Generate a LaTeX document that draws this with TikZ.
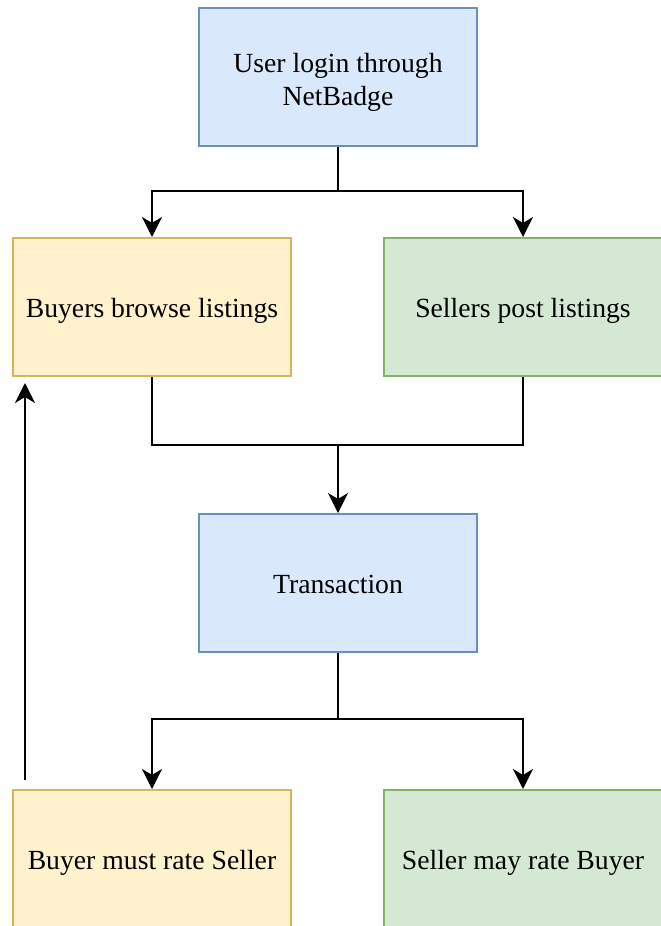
\documentclass[tikz,border=0pt]{standalone}
\usepackage{fontspec}
\setmainfont{Liberation Serif}
\usetikzlibrary{arrows.meta}
\definecolor{bluefill}{HTML}{DAE8FC}
\definecolor{bluedraw}{HTML}{6C8EBF}
\definecolor{yelfill}{HTML}{FFF2CC}
\definecolor{yeldraw}{HTML}{D6B656}
\definecolor{grnfill}{HTML}{D5E8D4}
\definecolor{grndraw}{HTML}{82B366}
\tikzset{
  boxfont/.style={font=\fontsize{27.7}{33}\selectfont},
  box/.style={rectangle, inner sep=0pt, minimum width=278pt, minimum height=138pt,
    line width=2pt, align=center, boxfont, text height=20pt, text depth=0pt},
  bluebox/.style={box, fill=bluefill, draw=bluedraw},
  yelbox/.style={box, fill=yelfill, draw=yeldraw},
  grnbox/.style={box, fill=grnfill, draw=grndraw},
  conn/.style={line width=2pt, black},
  arr/.style={conn, -{Stealth[length=20pt, width=20pt, inset=6pt]}},
}
\begin{document}
\begin{tikzpicture}[x=1pt, y=-1pt]
\useasboundingbox (0,0) rectangle (661,926);
\node[bluebox, label={[boxfont, align=center, yshift=-5pt]center:User login through\\NetBadge}] (login) at (338,77) {};
\node[yelbox] (browse) at (152,307) {Buyers browse listings};
\node[grnbox] (post) at (523,307) {Sellers post listings};
\node[bluebox] (trans) at (338,583) {Transaction};
\node[yelbox] (brate) at (152,859) {Buyer must rate Seller};
\node[grnbox] (srate) at (523,859) {Seller may rate Buyer};
\coordinate (loopstart) at (25,780);
\coordinate (loopend) at (25,383);
\draw[arr] (login.south) -- ++(0,44) -| (browse.north);
\draw[arr] (login.south) -- ++(0,44) -| (post.north);
\draw[conn] (browse.south) -- ++(0,68) -| (post.south);
\draw[arr] (338,444) -- (trans.north);
\draw[arr] (trans.south) -- ++(0,66) -| (brate.north);
\draw[arr] (trans.south) -- ++(0,66) -| (srate.north);
\draw[arr] (loopstart) -- (loopend);
\end{tikzpicture}
\end{document}
